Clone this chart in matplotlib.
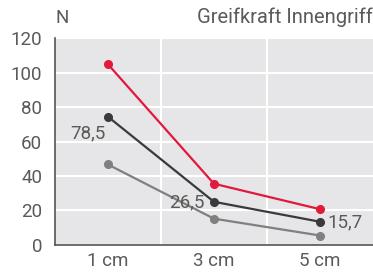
import matplotlib.pyplot as plt

# data
categories = ["1 cm", "3 cm", "5 cm"]
red_values = [105, 35.5, 20.7]
dark_values = [74.5, 25, 13.4]
gray_values = [46.7, 15.2, 5.4]
labels = ["78,5", "26,5", "15,7"]
yticks = [0, 20, 40, 60, 80, 100, 120]

plt.rcParams['font.family'] = ['Roboto', 'DejaVu Sans']
text_color = '#5a5a5a'

fig = plt.figure(figsize=(3.73, 2.72), dpi=100)
ax = fig.add_axes([0.147, 0.100, 0.853, 0.759])
ax.set_facecolor('#e6e6e8')

x = list(range(len(categories)))
ax.plot(x, gray_values, color='#808080', lw=1.6, marker='o', ms=5.5)
ax.plot(x, dark_values, color='#3a3a3c', lw=1.6, marker='o', ms=5.5)
ax.plot(x, red_values, color='#e2183c', lw=1.6, marker='o', ms=5.5)

ax.set_xlim(-0.5, 2.5)
ax.set_ylim(0, 120)
ax.set_yticks(yticks)
ax.set_xticks(x)
ax.set_xticklabels(categories)

# white grid: horizontal at ticks, vertical between categories
for v in yticks[1:]:
    ax.axhline(v, color='white', lw=1.5, zorder=0.5)
for v in [0.5, 1.5]:
    ax.axvline(v, color='white', lw=1.5, zorder=0.5)

for s in ['top', 'right']:
    ax.spines[s].set_visible(False)
ax.spines['left'].set_color('#555555')
ax.spines['bottom'].set_color('#555555')
ax.spines['left'].set_linewidth(1.2)
ax.spines['bottom'].set_linewidth(1.2)
ax.tick_params(length=0, labelsize=13.5, labelcolor=text_color)
ax.tick_params(axis='y', pad=9)
ax.tick_params(axis='x', pad=5)

# value labels
ax.text(-0.19, 65, labels[0], fontsize=13.5, color=text_color, ha='center', va='center')
ax.text(0.745, 24.5, labels[1], fontsize=13.5, color=text_color, ha='center', va='center')
ax.text(2.24, 13, labels[2], fontsize=13.5, color=text_color, ha='center', va='center')

fig.text(0.148, 0.935, "N", fontsize=13.5, color=text_color, ha='left', va='center')
fig.text(0.998, 0.935, "Greifkraft Innengriff", fontsize=14.5, color=text_color, ha='right', va='center')

fig.savefig('out.png', dpi=100)
